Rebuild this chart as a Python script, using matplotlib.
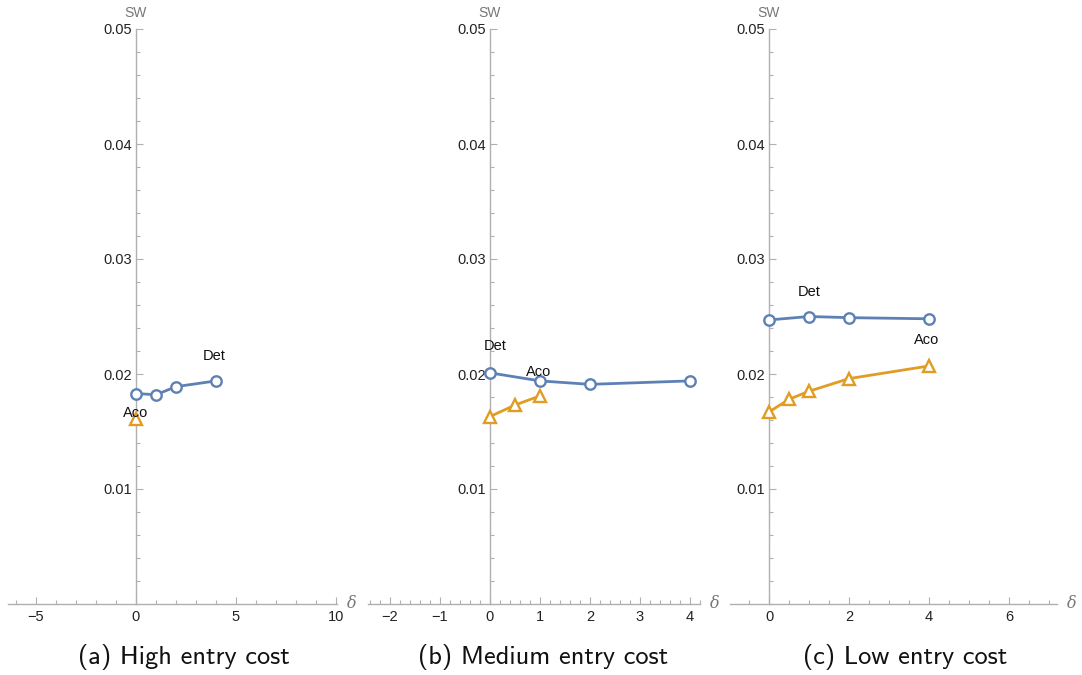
import numpy as np
import matplotlib
matplotlib.use("Agg")
import matplotlib.pyplot as plt
from matplotlib.ticker import MultipleLocator, FixedLocator, FuncFormatter

# data
det_x = [0, 1, 2, 4]
det_a = [0.0183, 0.0182, 0.0189, 0.0194]
det_b = [0.0201, 0.0194, 0.0191, 0.0194]
det_c = [0.0247, 0.0250, 0.0249, 0.0248]

aco_x_a = [0]
aco_a = [0.0161]
aco_x_b = [0, 0.5, 1]
aco_b = [0.0163, 0.0173, 0.0181]
aco_x_c = [0, 0.5, 1, 2, 4]
aco_c = [0.0167, 0.0178, 0.0185, 0.0196, 0.0207]

captions = ["(a) High entry cost", "(b) Medium entry cost", "(c) Low entry cost"]

blue = "#5E81B5"
orange = "#E19C24"
axis_gray = "#b0b0b0"

W, H = 1082, 675
fig = plt.figure(figsize=(W / 100, H / 100), dpi=100)


def px_axes(x0, x1, y_top=29, y_bot=604):
    return fig.add_axes([x0 / W, (H - y_bot) / H, (x1 - x0) / W, (y_bot - y_top) / H])


panels = [
    dict(px=(8, 337), xlim=(-6.4, 10.05), major=[-5, 0, 5, 10], minor=1.0,
         det=(det_x, det_a), aco=(aco_x_a, aco_a),
         det_lbl=(3.9, 0.0216), aco_lbl=(0.0, 0.0166), cap_x=184),
    dict(px=(368, 700), xlim=(-2.44, 4.2), major=[-2, -1, 0, 1, 2, 3, 4], minor=0.2,
         det=(det_x, det_b), aco=(aco_x_b, aco_b),
         det_lbl=(0.1, 0.0224), aco_lbl=(0.98, 0.0202), cap_x=543),
    dict(px=(730, 1057), xlim=(-0.975, 7.2), major=[0, 2, 4, 6], minor=0.5,
         det=(det_x, det_c), aco=(aco_x_c, aco_c),
         det_lbl=(1.0, 0.0271), aco_lbl=(3.95, 0.0230), cap_x=905),
]

tick_fmt = FuncFormatter(lambda v, p: f"{v:g}".replace("-", "\u2212"))

for i, p in enumerate(panels):
    ax = px_axes(*p["px"])
    ax.set_xlim(*p["xlim"])
    ax.set_ylim(0, 0.05)
    ax.patch.set_alpha(0)

    for s in ["top", "right"]:
        ax.spines[s].set_visible(False)
    ax.spines["left"].set_position(("data", 0))
    ax.spines["bottom"].set_position(("data", 0))
    for s in ["left", "bottom"]:
        ax.spines[s].set_color(axis_gray)
        ax.spines[s].set_linewidth(1.0)

    ax.xaxis.set_major_locator(FixedLocator(p["major"]))
    ax.xaxis.set_minor_locator(MultipleLocator(p["minor"]))
    ax.xaxis.set_major_formatter(tick_fmt)
    ax.yaxis.set_major_locator(FixedLocator([0.01, 0.02, 0.03, 0.04, 0.05]))
    ax.yaxis.set_minor_locator(MultipleLocator(0.002))
    ax.tick_params(which="both", direction="in", color=axis_gray, width=0.8,
                   labelsize=10.5, labelcolor="#222222", labelfontfamily="Liberation Sans")
    ax.tick_params(which="major", length=5)
    ax.tick_params(which="minor", length=3)
    ax.tick_params(axis="x", pad=4)
    ax.tick_params(axis="y", pad=3)

    ax.plot(*p["det"], color=blue, lw=2, marker="o", ms=7.5, mfc="white",
            mec=blue, mew=1.7, clip_on=False, zorder=3)
    ax.plot(*p["aco"], color=orange, lw=2, marker="^", ms=8.5, mfc="white",
            mec=orange, mew=1.7, clip_on=False, zorder=3)

    ax.text(*p["det_lbl"], "Det", ha="center", va="center", fontsize=10.5,
            family="Liberation Sans", color="#111111", zorder=4)
    ax.text(*p["aco_lbl"], "Aco", ha="center", va="center", fontsize=10.5,
            family="Liberation Sans", color="#111111", zorder=4)

    # axis names
    ax.annotate("SW", xy=(0, 1), xycoords=("data", "axes fraction"),
                xytext=(0, 9), textcoords="offset pixels", ha="center", va="bottom",
                fontsize=10, color="#777777", family="Liberation Sans", annotation_clip=False)
    ax.annotate("\u03b4", xy=(1, 0), xycoords="axes fraction",
                xytext=(15, 0), textcoords="offset pixels", ha="center", va="center",
                fontsize=11.5, color="#777777", style="italic", family="DejaVu Serif",
                annotation_clip=False)

    fig.text(p["cap_x"] / W, (H - 657) / H, captions[i], ha="center", va="center",
             fontsize=19, family="cmss10", color="#111111")

fig.savefig("out.png", dpi=100)
